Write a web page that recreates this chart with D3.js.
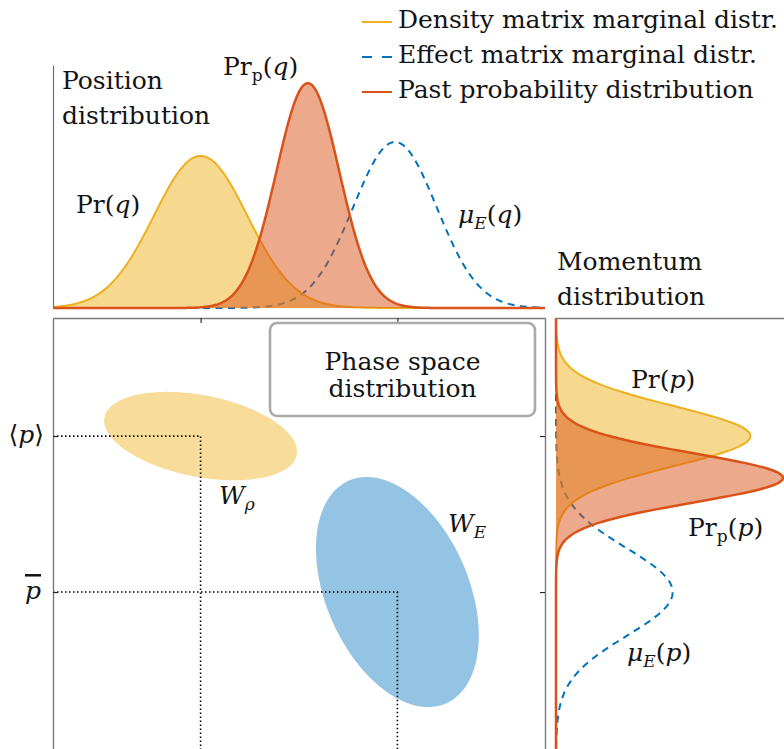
<!DOCTYPE html>
<html><head><meta charset="utf-8">
<script src="https://cdn.jsdelivr.net/npm/d3@7"></script>
<style>
html,body{margin:0;padding:0;background:#fff;}
svg{display:block;}
text{font-family:"DejaVu Serif",serif;font-size:25px;fill:#141414;}
</style></head><body>
<svg id="chart" width="784" height="749"></svg>
<script>
// Series colours
const colDensity = "#EDB120", colEffect = "#0072BD", colPast = "#D95319";

// Tick positions on the phase-space axes
const qTicks = [3.0, 7.0];
const pTicks = [7.6, 4.43];

// Position marginals: mean, width, peak height (drawn in this order)
const qNames  = ["effect", "density", "past"];
const qMeans  = [6.95, 3.0, 5.18];
const qWidths = [0.85, 0.95, 0.64];
const qPeaks  = [0.683, 0.626, 0.925];

// Momentum marginals: mean, width, peak height
const pNames  = ["effect", "density", "past"];
const pMeans  = [4.43, 7.6, 6.75];
const pWidths = [0.89, 0.61, 0.50];
const pPeaks  = [0.48, 0.80, 0.934];

// Wigner-function ellipses: centre (q, p), semi-axes, tilt in degrees
const ellipseNames = ["density", "effect"];
const ellipseQ = [3.0, 7.0];
const ellipseP = [7.6, 4.43];
const ellipseA = [1.99, 2.47];
const ellipseB = [0.83, 1.45];
const ellipseTilt = [-11, -66.5];

const legendLabels = ["Density matrix marginal distr.", "Effect matrix marginal distr.", "Past probability distribution"];

const colourOf = {density: colDensity, effect: colEffect, past: colPast};

const svg = d3.select("#chart");

// Scales
const xq = d3.scaleLinear().domain([0, 10]).range([53, 545]);
const yp = d3.scaleLinear().domain([0, 10]).range([810, 318]);
const yTop = d3.scaleLinear().domain([0, 1]).range([308, 65]);
const xRight = d3.scaleLinear().domain([0, 1]).range([556, 799]);

const gauss = (m, w, h) => v => h * Math.exp(-0.5 * ((v - m) / w) ** 2);
const grid = d3.range(0, 10.0001, 0.02);

// Helper for math-style labels built from tspans
function addMath(parent, x, y, parts, anchor) {
  const t = parent.append("text").attr("x", x).attr("y", y).attr("text-anchor", anchor || "start");
  let shift = 0;
  parts.forEach(p => {
    const s = t.append("tspan").text(p.t);
    const target = p.sub ? 6 : 0;
    if (target !== shift) { s.attr("dy", target - shift); shift = target; }
    if (p.sub) s.attr("font-size", 17);
    if (p.it) s.attr("font-style", "italic");
    if (p.over) s.style("text-decoration", "overline");
  });
  return t;
}

// ---------- Phase space panel ----------
const mainPanel = svg.append("g");

const ellipseLine = d3.line().x(d => xq(d[0])).y(d => yp(d[1])).curve(d3.curveLinearClosed);
const ellOpacity = {density: 0.45, effect: 0.42};
ellipseNames.forEach((name, i) => {
  const th = ellipseTilt[i] * Math.PI / 180;
  const pts = d3.range(0, 2 * Math.PI, Math.PI / 180).map(t => [
    ellipseQ[i] + ellipseA[i] * Math.cos(t) * Math.cos(th) - ellipseB[i] * Math.sin(t) * Math.sin(th),
    ellipseP[i] + ellipseA[i] * Math.cos(t) * Math.sin(th) + ellipseB[i] * Math.sin(t) * Math.cos(th)
  ]);
  mainPanel.append("path").attr("d", ellipseLine(pts))
    .attr("fill", colourOf[name]).attr("fill-opacity", ellOpacity[name]);
});

// Dotted guides from the p-axis to the distribution centres
const guide = d3.line().x(d => xq(d[0])).y(d => yp(d[1]));
[[0, 0], [1, 1]].forEach(([pi, qi]) => {
  mainPanel.append("path")
    .attr("d", guide([[0, pTicks[pi]], [qTicks[qi], pTicks[pi]], [qTicks[qi], 0]]))
    .attr("fill", "none").attr("stroke", "#000").attr("stroke-width", 1.6)
    .attr("stroke-dasharray", "1.5,2.5");
});

// Frame and inward ticks
const frameCol = "#7a7a7a";
function styleAxis(g) {
  g.selectAll(".domain").attr("stroke", frameCol).attr("stroke-width", 1.4);
  g.selectAll(".tick line").attr("stroke", "#222").attr("stroke-width", 1.1);
}
mainPanel.append("g").attr("transform", `translate(0,${yp(10)})`)
  .call(d3.axisTop(xq).tickValues(qTicks).tickSize(-5).tickSizeOuter(0).tickFormat(""))
  .call(styleAxis);
mainPanel.append("g").attr("transform", `translate(0,${yp(0)})`)
  .call(d3.axisBottom(xq).tickValues(qTicks).tickSize(-5).tickSizeOuter(0).tickFormat(""))
  .call(styleAxis);
mainPanel.append("g").attr("transform", `translate(${xq(0)},0)`)
  .call(d3.axisLeft(yp).tickValues(pTicks).tickSize(-5).tickSizeOuter(0).tickFormat(""))
  .call(styleAxis);
mainPanel.append("g").attr("transform", `translate(${xq(10)},0)`)
  .call(d3.axisRight(yp).tickValues(pTicks).tickSize(-5).tickSizeOuter(0).tickFormat(""))
  .call(styleAxis);

// p-axis tick labels
addMath(mainPanel, 44, yp(pTicks[0]) + 7, [{t: "\u27E8"}, {t: "p", it: true}, {t: "\u27E9"}], "end");
addMath(mainPanel, 41, yp(pTicks[1]) + 7, [{t: "p", it: true, over: true}], "end");

// Ellipse labels
addMath(mainPanel, 219, 504, [{t: "W", it: true}, {t: "\u03C1", it: true, sub: true}]);
addMath(mainPanel, 448, 532, [{t: "W", it: true}, {t: "E", it: true, sub: true}]);

// Title box
mainPanel.append("rect").attr("x", 270).attr("y", 323).attr("width", 265).attr("height", 93)
  .attr("rx", 7).attr("fill", "#fff").attr("stroke", "#aaaaaa").attr("stroke-width", 2.6);
mainPanel.append("text").attr("x", 402.5).attr("y", 370).attr("text-anchor", "middle").text("Phase space");
mainPanel.append("text").attr("x", 402.5).attr("y", 397).attr("text-anchor", "middle").text("distribution");

// ---------- Position marginal panel ----------
const topPanel = svg.append("g");
const areaTop = d3.area().x(d => xq(d[0])).y0(yTop(0)).y1(d => yTop(d[1]));
const lineTop = d3.line().x(d => xq(d[0])).y(d => yTop(d[1]));

qNames.forEach((name, i) => {
  const f = gauss(qMeans[i], qWidths[i], qPeaks[i]);
  const data = grid.map(q => [q, f(q)]);
  if (name !== "effect") {
    topPanel.append("path").attr("d", areaTop(data)).attr("fill", colourOf[name]).attr("fill-opacity", 0.5);
  }
  topPanel.append("path").attr("d", lineTop(data)).attr("fill", "none")
    .attr("stroke", colourOf[name])
    .attr("stroke-width", name === "past" ? 2.5 : 2)
    .attr("stroke-dasharray", name === "effect" ? "7,5.5" : null);
});

topPanel.append("g").attr("transform", `translate(${xq(0)},0)`)
  .call(d3.axisLeft(yTop).tickValues([]).tickSizeOuter(0))
  .call(g => g.select(".domain").attr("stroke", "#707070").attr("stroke-width", 1.2));

topPanel.append("text").attr("x", 62).attr("y", 89).text("Position");
topPanel.append("text").attr("x", 62).attr("y", 124).text("distribution");
addMath(topPanel, 76, 213, [{t: "Pr("}, {t: "q", it: true}, {t: ")"}]);
addMath(topPanel, 223, 75, [{t: "Pr"}, {t: "p", sub: true}, {t: "("}, {t: "q", it: true}, {t: ")"}]);
addMath(topPanel, 458, 223, [{t: "\u03BC", it: true}, {t: "E", it: true, sub: true}, {t: "("}, {t: "q", it: true}, {t: ")"}]);

// ---------- Momentum marginal panel ----------
const rightPanel = svg.append("g");
const areaRight = d3.area().y(d => yp(d[0])).x0(xRight(0)).x1(d => xRight(d[1]));
const lineRight = d3.line().y(d => yp(d[0])).x(d => xRight(d[1]));

pNames.forEach((name, i) => {
  const f = gauss(pMeans[i], pWidths[i], pPeaks[i]);
  const data = grid.map(p => [p, f(p)]);
  if (name !== "effect") {
    rightPanel.append("path").attr("d", areaRight(data)).attr("fill", colourOf[name]).attr("fill-opacity", 0.5);
  }
  rightPanel.append("path").attr("d", lineRight(data)).attr("fill", "none")
    .attr("stroke", colourOf[name])
    .attr("stroke-width", name === "past" ? 2.5 : 2)
    .attr("stroke-dasharray", name === "effect" ? "7,5.5" : null);
});

rightPanel.append("g").attr("transform", `translate(0,${yp(10)})`)
  .call(d3.axisTop(xRight).tickValues([]).tickSizeOuter(0))
  .call(g => g.select(".domain").attr("stroke", frameCol).attr("stroke-width", 1.4));

rightPanel.append("text").attr("x", 557).attr("y", 270).text("Momentum");
rightPanel.append("text").attr("x", 557).attr("y", 305).text("distribution");
addMath(rightPanel, 631, 388, [{t: "Pr("}, {t: "p", it: true}, {t: ")"}]);
addMath(rightPanel, 688, 536, [{t: "Pr"}, {t: "p", sub: true}, {t: "("}, {t: "p", it: true}, {t: ")"}]);
addMath(rightPanel, 627, 661, [{t: "\u03BC", it: true}, {t: "E", it: true, sub: true}, {t: "("}, {t: "p", it: true}, {t: ")"}]);

// ---------- Legend ----------
const legend = svg.append("g");
const legendColours = [colDensity, colEffect, colPast];
legendLabels.forEach((label, i) => {
  const y = 22 + i * 35;
  legend.append("line").attr("x1", 362).attr("x2", 392).attr("y1", y).attr("y2", y)
    .attr("stroke", legendColours[i]).attr("stroke-width", 2)
    .attr("stroke-dasharray", i === 1 ? "10,10" : null);
  legend.append("text").attr("x", 398).attr("y", y + 6).text(label);
});
</script>
</body></html>
